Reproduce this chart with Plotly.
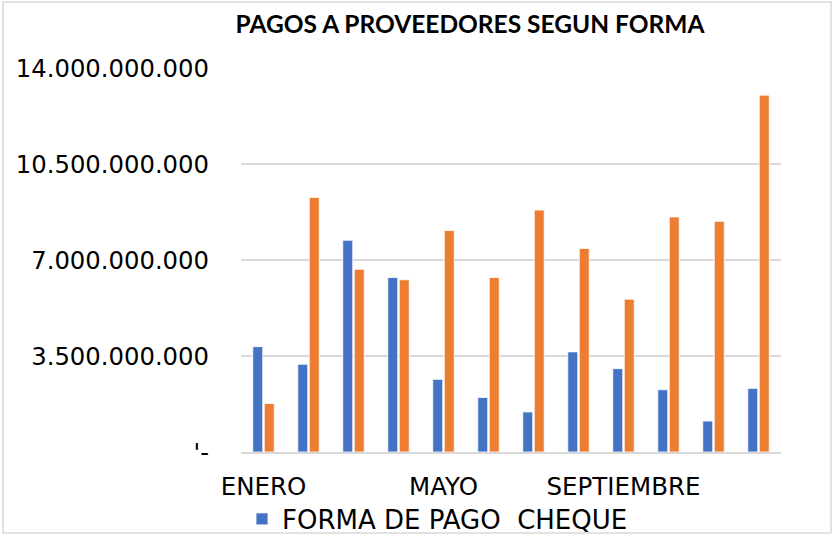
import plotly.graph_objects as go

months = ["ENERO", "FEBRERO", "MARZO", "ABRIL", "MAYO", "JUNIO", "JULIO",
          "AGOSTO", "SEPTIEMBRE", "OCTUBRE", "NOVIEMBRE", "DICIEMBRE"]
cheque = [3.84e9, 3.20e9, 7.72e9, 6.36e9, 2.65e9, 1.99e9, 1.46e9,
          3.65e9, 3.04e9, 2.27e9, 1.13e9, 2.32e9]
transferencia = [1.77e9, 9.28e9, 6.66e9, 6.28e9, 8.08e9, 6.36e9, 8.82e9,
                 7.42e9, 5.57e9, 8.57e9, 8.41e9, 13.01e9]
y_tickvals = [0, 3.5e9, 7e9, 10.5e9, 14e9]
y_ticktext = ["'-", "3.500.000.000", "7.000.000.000", "10.500.000.000", "14.000.000.000"]
x_tickvals = ["ENERO", "MAYO", "SEPTIEMBRE"]

FONT = "DejaVu Sans"
TFONT = "Lato"
W, H = 834, 535
L, R, T, B = 241, 53, 68, 83
pw, ph = W - L - R, H - T - B

def px_x(p):
    return (p - L) / pw

def px_y(p):
    return (H - B - p) / ph

fig = go.Figure()
fig.add_trace(go.Bar(x=months, y=cheque, name="FORMA DE PAGO&nbsp; CHEQUE",
                     marker=dict(color="#4472C4", line=dict(color="#ffffff", width=0.8))))
fig.add_trace(go.Bar(x=months, y=transferencia, name="FORMA DE PAGO  TRANSFERENCIA",
                     showlegend=False,
                     marker=dict(color="#ED7D31", line=dict(color="#ffffff", width=0.8))))

fig.update_layout(
    width=W, height=H,
    margin=dict(l=L, r=R, t=T, b=B, autoexpand=False),
    paper_bgcolor="white", plot_bgcolor="white",
    barmode="group", bargap=0.49, bargroupgap=0.13,
    font=dict(family=FONT, color="#000000"),
    title=dict(text="<b>PAGOS A PROVEEDORES SEGUN FORMA</b>",
               x=470 / W, xanchor="center", y=1 - 24 / H, yanchor="middle",
               font=dict(family=TFONT, size=24.5, color="#000000")),
    showlegend=True,
    legend=dict(orientation="h", x=px_x(242), xanchor="left",
                y=px_y(519), yanchor="middle",
                font=dict(family=FONT, size=26, color="#000000"),
                bgcolor="rgba(0,0,0,0)"),
    shapes=[dict(type="rect", xref="paper", yref="paper",
                 x0=px_x(3), x1=px_x(831), y0=px_y(533), y1=px_y(2),
                 line=dict(color="#d9d9d9", width=1.5), fillcolor="rgba(0,0,0,0)",
                 layer="below")],
)
fig.update_xaxes(
    tickmode="array", tickvals=x_tickvals, ticktext=x_tickvals,
    tickfont=dict(family=FONT, size=24.5, color="#000000"),
    showgrid=False, showline=True, linecolor="#d9d9d9", linewidth=1.5,
    ticks="", ticklabelstandoff=12, automargin=False,
)
fig.update_yaxes(
    range=[0, 14e9], tickmode="array", tickvals=y_tickvals, ticktext=y_ticktext,
    tickfont=dict(family=FONT, size=24.3, color="#000000"),
    showgrid=True, gridcolor="#d9d9d9", gridwidth=1.5,
    zeroline=False, showline=False, ticks="", ticklabelstandoff=31, automargin=False,
)

fig.write_html("out.html", config={"displayModeBar": False},
               post_script="document.body.style.margin='0';document.body.style.overflow='hidden';")
